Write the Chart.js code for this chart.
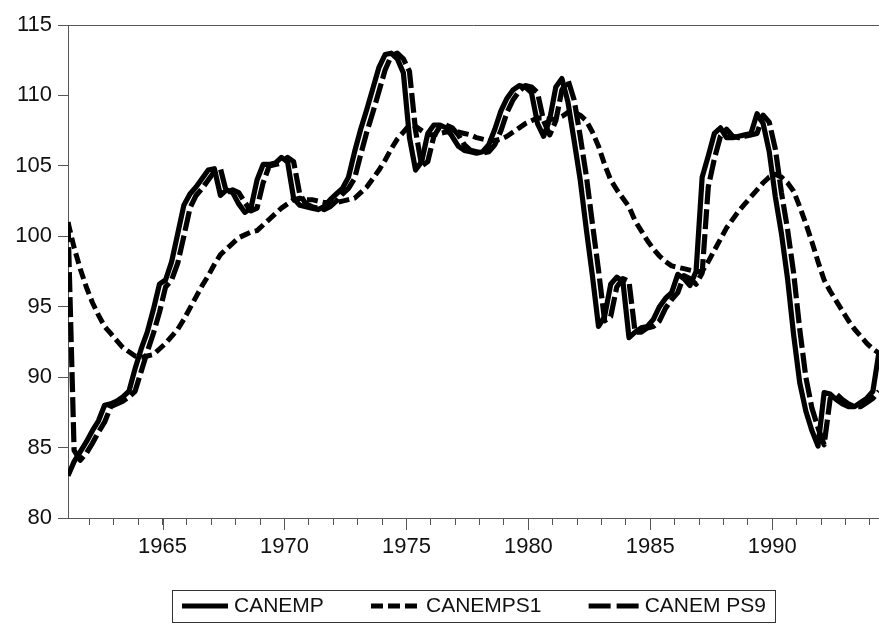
<!DOCTYPE html>
<html>
<head>
<meta charset="utf-8">
<script src="https://cdn.jsdelivr.net/npm/chart.js@4.4.1/dist/chart.umd.min.js"></script>
<style>
  html, body { margin: 0; padding: 0; background: #fff; }
  #wrap { width: 879px; height: 624px; }
</style>
</head>
<body>
<div id="wrap"><canvas id="empChart" width="879" height="624"></canvas></div>
<script>
// quarterly, first observation 1961Q1
const firstYear = 1961;
const seriesNames = ['CANEMP', 'CANEMPS1', 'CANEMPS9'];
const legendTexts = ['CANEMP', 'CANEMPS1', 'CANEM PS9'];
const yTicks = [80, 85, 90, 95, 100, 105, 110, 115];
const yearTicks = [1962, 1963, 1964, 1965, 1966, 1967, 1968, 1969, 1970, 1971, 1972,
  1973, 1974, 1975, 1976, 1977, 1978, 1979, 1980, 1981, 1982, 1983, 1984, 1985,
  1986, 1987, 1988, 1989, 1990, 1991, 1992, 1993, 1994];
const labeledYears = [1965, 1970, 1975, 1980, 1985, 1990];

const canemp = [
  83.0, 84.0, 84.7, 85.4,   86.2, 86.9, 88.0, 88.1,   88.3, 88.6, 89.0, 90.6,
  92.0, 93.2, 94.8, 96.6,   96.9, 98.2, 100.2, 102.2, 103.0, 103.5, 104.1, 104.7,
  104.8, 102.9, 103.3, 103.1, 102.3, 101.7, 102.0, 104.0, 105.1, 105.1, 105.2, 105.6,
  105.3, 102.7, 102.2, 102.1, 102.0, 101.9, 102.1, 102.6, 103.0, 103.4, 104.2, 106.0,
  107.6, 109.0, 110.5, 112.0, 112.9, 113.0, 112.6, 111.6, 107.0, 104.7, 105.3, 107.3,
  107.9, 107.9, 107.7, 107.1, 106.4, 106.1, 106.0, 105.9, 106.0, 106.5, 107.6, 108.9,
  109.8, 110.4, 110.7, 110.6, 110.2, 108.0, 107.1, 108.3, 110.6, 111.2, 109.5, 106.8,
  104.0, 100.5, 97.2, 93.6,  94.3, 96.6, 97.1, 96.8,    92.8, 93.2, 93.5, 93.6,
  94.1, 95.0, 95.6, 96.0,    97.3, 97.0, 96.5, 97.5,    104.2, 105.7, 107.3, 107.7,
  107.0, 107.0, 107.1, 107.2, 107.3, 108.7, 108.0, 106.0, 102.8, 100.2, 97.0, 93.0,
  89.6, 87.6, 86.2, 85.1,    88.9, 88.8, 88.4, 88.1,    87.9, 87.9, 88.2, 88.5,
  89.0, 91.8
];

const canemps1 = [
  101.0, 99.2, 97.7, 96.4,  95.3, 94.4, 93.6, 93.1,    92.6, 92.1, 91.8, 91.5,
  91.4, 91.5, 91.6, 92.0,    92.4, 92.9, 93.4, 94.1,    94.9, 95.7, 96.5, 97.2,
  98.0, 98.7, 99.1, 99.5,    99.9, 100.1, 100.3, 100.4, 100.8, 101.2, 101.6, 102.0,
  102.3, 102.6, 102.7, 102.6, 102.6, 102.5, 102.4, 102.4, 102.4, 102.5, 102.6, 102.7,
  103.1, 103.5, 104.1, 104.7, 105.4, 106.2, 106.9, 107.4, 107.9, 107.8, 107.5, 107.2,
  107.2, 107.3, 107.4, 107.4, 107.4, 107.3, 107.2, 107.0, 106.9, 106.8, 106.8, 106.9,
  107.1, 107.4, 107.7, 108.0, 108.2, 108.4, 108.4, 108.3, 108.3, 108.5, 108.8, 108.8,
  108.6, 108.2, 107.4, 106.4, 105.1, 104.0, 103.3, 102.7, 102.1, 101.1, 100.4, 99.7,
  99.1, 98.6, 98.2, 97.9,    97.8, 97.7, 97.6, 97.5,    97.5, 98.2, 99.0, 99.8,
  100.6, 101.2, 101.8, 102.3, 102.8, 103.3, 103.8, 104.2, 104.4, 104.2, 103.8, 103.2,
  102.1, 100.9, 99.6, 98.2,  96.9, 96.1, 95.4, 94.7,    94.0, 93.4, 92.9, 92.4,
  92.0, 91.7
];

const canemps9 = [
  101.0, 84.8, 84.1, 84.6,  85.3, 86.1, 86.8, 87.9,    88.1, 88.3, 88.6, 89.0,
  90.4, 91.8, 93.1, 94.6,    96.4, 96.9, 98.1, 100.0,   102.0, 102.9, 103.4, 104.0,
  104.6, 104.8, 103.1, 103.3, 103.1, 102.4, 101.8, 102.0, 103.8, 105.0, 105.1, 105.2,
  105.6, 105.3, 103.0, 102.3, 102.1, 102.0, 101.9, 102.1, 102.5, 103.0, 103.4, 104.1,
  105.8, 107.4, 108.8, 110.3, 111.8, 112.8, 113.0, 112.6, 111.7, 107.5, 105.0, 105.3,
  107.1, 107.8, 107.9, 107.7, 107.2, 106.5, 106.1, 106.0, 105.9, 106.0, 106.5, 107.5,
  108.8, 109.7, 110.3, 110.7, 110.6, 110.2, 108.2, 107.2, 108.2, 110.4, 111.1, 109.7,
  107.1, 104.3, 100.9, 97.6, 94.0, 94.3, 96.4, 97.0,    96.8, 93.2, 93.2, 93.5,
  93.6, 94.0, 94.9, 95.5,    96.0, 97.2, 97.0, 96.6,    97.4, 103.5, 105.5, 107.1,
  107.6, 107.1, 107.0, 107.1, 107.2, 107.3, 108.6, 108.1, 106.2, 103.1, 100.5, 97.4,
  93.4, 90.0, 87.8, 86.4,    85.2, 88.5, 88.8, 88.4,    88.1, 87.9, 87.9, 88.2,
  88.5, 89.0
];

// observations sit in the middle of their quarter
const toPoints = arr => arr.map((v, i) => ({ x: firstYear + 0.125 + i / 4, y: v }));

const axisColor = '#555555';
const fontFamily = '"Liberation Sans", Arial, sans-serif';

const lineStyles = [
  { dash: [], width: 5.2 },
  { dash: [11, 5], width: 5 },
  { dash: [20, 5], width: 5.2 }
];

// top frame line, long ticks on labelled years, boxed legend under the plot
const framePlugin = {
  id: 'framePlugin',
  afterDraw(chart) {
    const { ctx, chartArea: a } = chart;
    const xs = chart.scales.x;
    ctx.save();
    ctx.strokeStyle = axisColor;
    ctx.lineWidth = 1;
    ctx.beginPath();
    ctx.moveTo(a.left, a.top + 0.5);
    ctx.lineTo(a.right, a.top + 0.5);
    ctx.stroke();

    labeledYears.forEach(yr => {
      const px = Math.round(xs.getPixelForValue(yr)) + 0.5;
      ctx.beginPath();
      ctx.moveTo(px, a.bottom);
      ctx.lineTo(px, a.bottom + 12);
      ctx.stroke();
    });

    // legend: items spread across the box
    const boxLeft = 172.5, boxW = 603, boxTop = 590.5, boxH = 32, midY = 606;
    ctx.strokeStyle = '#333';
    ctx.strokeRect(boxLeft, boxTop, boxW, boxH);
    ctx.font = '21px ' + fontFamily;
    const sampleW = [46, 49, 50];
    const dashes = [[], [12, 5], [22, 6]];
    const textW = legendTexts.map(t => ctx.measureText(t).width);
    const inner = 6;
    const used = sampleW.reduce((s, w) => s + w, 0) + textW.reduce((s, w) => s + w, 0) + inner * 3;
    const gap = (766 - 182 - used) / 2;
    let x = 182;
    legendTexts.forEach((txt, i) => {
      ctx.strokeStyle = '#000';
      ctx.lineWidth = 5;
      ctx.setLineDash(dashes[i]);
      ctx.beginPath();
      ctx.moveTo(x, midY);
      ctx.lineTo(x + sampleW[i], midY);
      ctx.stroke();
      ctx.setLineDash([]);
      x += sampleW[i] + inner;
      ctx.fillStyle = '#111';
      ctx.textBaseline = 'middle';
      ctx.fillText(txt, x, midY);
      x += textW[i] + gap;
    });
    ctx.restore();
  }
};

const seriesData = [canemp, canemps1, canemps9];

new Chart(document.getElementById('empChart'), {
  type: 'line',
  data: {
    datasets: seriesData.map((arr, i) => ({
      label: seriesNames[i],
      data: toPoints(arr),
      borderColor: '#000',
      borderWidth: lineStyles[i].width,
      borderDash: lineStyles[i].dash,
      borderJoinStyle: 'round',
      pointRadius: 0,
      tension: 0,
      fill: false
    }))
  },
  options: {
    responsive: false,
    animation: false,
    devicePixelRatio: 1,
    layout: { padding: { top: 25, right: 0, left: 0, bottom: 0 } },
    plugins: { legend: { display: false }, tooltip: { enabled: false } },
    scales: {
      x: {
        type: 'linear',
        min: firstYear + 0.125,
        max: firstYear + 0.125 + (canemp.length - 1) / 4,
        afterBuildTicks: scale => { scale.ticks = yearTicks.map(v => ({ value: v })); },
        afterFit: scale => { scale.height = 106; },
        grid: { drawOnChartArea: false, drawTicks: true, tickLength: 7, color: axisColor },
        border: { display: true, color: axisColor, width: 1 },
        ticks: {
          autoSkip: false,
          maxRotation: 0,
          padding: 9,
          color: '#111',
          font: { family: fontFamily, size: 22 },
          callback: v => labeledYears.includes(v) ? String(v) : ''
        }
      },
      y: {
        min: 80,
        max: 115,
        afterBuildTicks: scale => { scale.ticks = yTicks.map(v => ({ value: v })); },
        afterFit: scale => { scale.width = 68; },
        grid: { drawOnChartArea: false, drawTicks: true, tickLength: 10, color: axisColor },
        border: { display: true, color: axisColor, width: 1 },
        ticks: {
          padding: 6,
          color: '#111',
          font: { family: fontFamily, size: 22 }
        }
      }
    }
  },
  plugins: [framePlugin]
});
</script>
</body>
</html>
